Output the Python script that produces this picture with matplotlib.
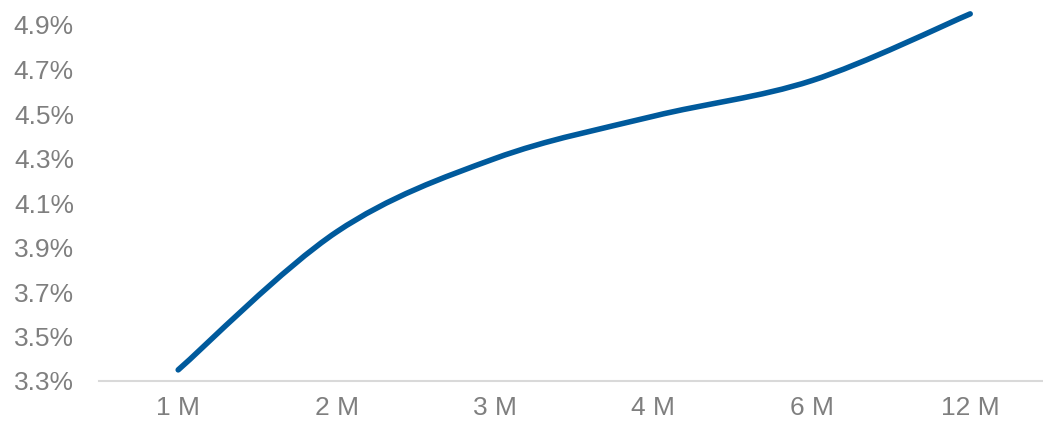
import numpy as np
import matplotlib
matplotlib.use("Agg")
import matplotlib.pyplot as plt
from matplotlib.path import Path
from matplotlib.patches import PathPatch

categories = ["1 M", "2 M", "3 M", "4 M", "6 M", "12 M"]
rates = [3.35, 3.97, 4.30, 4.49, 4.65, 4.95]
y_ticks = [3.3, 3.5, 3.7, 3.9, 4.1, 4.3, 4.5, 4.7, 4.9]
y_labels = [f"{v:.1f}%" for v in y_ticks]

plt.rcParams['font.family'] = ['Liberation Sans', 'DejaVu Sans']

fig = plt.figure(figsize=(10.43, 4.25), dpi=100)
ax = fig.add_axes([99/1043, 1 - 381/425, 950.4/1043, (381 - 3)/425])

x = np.arange(len(categories))
y = np.array(rates)

# Smoothed line (Excel-like) via Catmull-Rom Bezier segments
verts = [(x[0], y[0])]
codes = [Path.MOVETO]
n = len(x)
for i in range(n - 1):
    p0 = (x[i-1], y[i-1]) if i > 0 else (x[i], y[i])
    p1 = (x[i], y[i])
    p2 = (x[i+1], y[i+1])
    p3 = (x[i+2], y[i+2]) if i + 2 < n else (x[i+1], y[i+1])
    t = 1/6
    c1 = (p1[0] + (p2[0] - p0[0]) * t, p1[1] + (p2[1] - p0[1]) * t)
    c2 = (p2[0] - (p3[0] - p1[0]) * t, p2[1] - (p3[1] - p1[1]) * t)
    verts += [c1, c2, p2]
    codes += [Path.CURVE4] * 3
patch = PathPatch(Path(verts, codes), facecolor='none', edgecolor='#005a9c',
                  lw=4.0, capstyle='round', joinstyle='round', clip_on=False)
ax.add_patch(patch)

ax.set_xlim(-0.5, len(categories) - 0.5)
ax.set_ylim(3.3, 3.3 + (381 - 3) / 222.5)
ax.set_xticks(x)
ax.set_xticklabels(categories)
ax.set_yticks(y_ticks)
ax.set_yticklabels(y_labels)
ax.tick_params(axis='both', length=0, colors='#7f7f7f', labelsize=19)
ax.tick_params(axis='y', pad=18)
ax.tick_params(axis='x', pad=11)
for s in ['top', 'right', 'left']:
    ax.spines[s].set_visible(False)
ax.spines['bottom'].set_color('#d9d9d9')
ax.spines['bottom'].set_linewidth(1.5)

fig.savefig("out.png", dpi=100)
